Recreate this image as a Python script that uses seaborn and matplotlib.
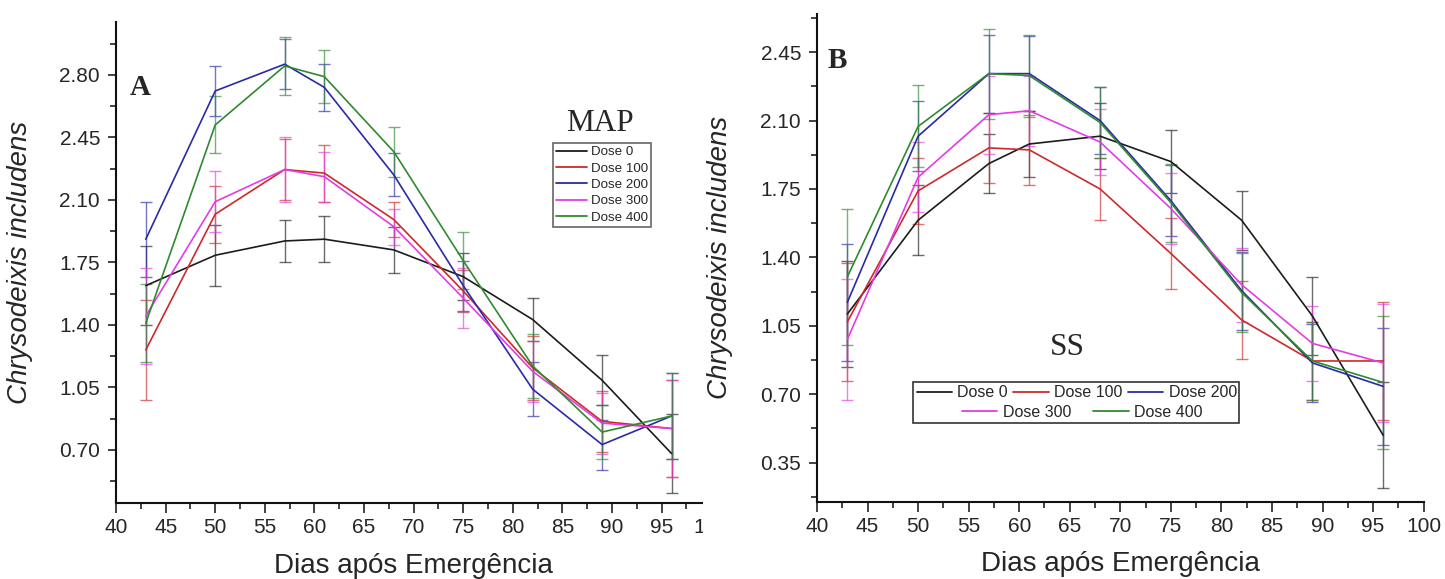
import numpy as np
import pandas as pd
import seaborn as sns
import matplotlib.pyplot as plt
from matplotlib.patches import Rectangle
from matplotlib.ticker import MultipleLocator, FormatStrFormatter

days = [43, 50, 57, 61, 68, 75, 82, 89, 96]
doses = ["Dose 0", "Dose 100", "Dose 200", "Dose 300", "Dose 400"]

# painel A - MAP
map_d0 = [1.62, 1.79, 1.87, 1.88, 1.82, 1.67, 1.43, 1.09, 0.68]
map_d100 = [1.26, 2.02, 2.27, 2.25, 1.99, 1.59, 1.16, 0.86, 0.82]
map_d200 = [1.88, 2.71, 2.86, 2.73, 2.24, 1.62, 1.04, 0.73, 0.89]
map_d300 = [1.45, 2.09, 2.27, 2.23, 1.95, 1.55, 1.14, 0.85, 0.82]
map_d400 = [1.41, 2.52, 2.85, 2.79, 2.37, 1.76, 1.17, 0.80, 0.89]

map_e0 = [0.22, 0.17, 0.12, 0.13, 0.13, 0.13, 0.12, 0.14, 0.22]
map_e100 = [0.28, 0.16, 0.17, 0.16, 0.10, 0.12, 0.18, 0.17, 0.27]
map_e200 = [0.21, 0.14, 0.14, 0.13, 0.12, 0.14, 0.15, 0.14, 0.24]
map_e300 = [0.27, 0.17, 0.18, 0.14, 0.10, 0.17, 0.17, 0.17, 0.27]
map_e400 = [0.22, 0.16, 0.16, 0.15, 0.14, 0.16, 0.18, 0.15, 0.24]

# painel B - SS
ss_d0 = [1.11, 1.59, 1.88, 1.98, 2.02, 1.89, 1.59, 1.10, 0.49]
ss_d100 = [1.07, 1.74, 1.96, 1.95, 1.75, 1.42, 1.08, 0.87, 0.87]
ss_d200 = [1.17, 2.02, 2.34, 2.34, 2.10, 1.69, 1.23, 0.86, 0.74]
ss_d300 = [0.98, 1.81, 2.13, 2.15, 1.99, 1.65, 1.26, 0.96, 0.86]
ss_d400 = [1.30, 2.07, 2.34, 2.33, 2.09, 1.68, 1.22, 0.87, 0.76]

ss_e0 = [0.27, 0.18, 0.15, 0.17, 0.17, 0.16, 0.15, 0.20, 0.27]
ss_e100 = [0.30, 0.17, 0.18, 0.18, 0.16, 0.18, 0.20, 0.20, 0.30]
ss_e200 = [0.30, 0.18, 0.20, 0.19, 0.17, 0.18, 0.20, 0.20, 0.30]
ss_e300 = [0.31, 0.18, 0.20, 0.18, 0.17, 0.18, 0.19, 0.19, 0.30]
ss_e400 = [0.35, 0.21, 0.23, 0.21, 0.18, 0.20, 0.20, 0.20, 0.34]

palette = {"Dose 0": "#1c1c1c", "Dose 100": "#cc2a2a", "Dose 200": "#2a2aa8",
           "Dose 300": "#e43ce4", "Dose 400": "#2f8a2f"}

sns.set_style("ticks")
plt.rcParams['font.family'] = ['Liberation Sans', 'DejaVu Sans']


def to_long(means, errs):
    rows = []
    for dose, m, e in zip(doses, means, errs):
        for d, v, s in zip(days, m, e):
            rows.append({"dia": d, "valor": v, "erro": s, "dose": dose})
    return pd.DataFrame(rows)


def draw_panel(ax, df, ylim):
    for dose in doses:
        sub = df[df["dose"] == dose]
        ax.errorbar(sub["dia"], sub["valor"], yerr=sub["erro"], fmt="none",
                    ecolor=palette[dose], alpha=0.65, elinewidth=1.0,
                    capsize=4.5, capthick=1.0, zorder=1.5)
    sns.lineplot(data=df, x="dia", y="valor", hue="dose", hue_order=doses,
                 palette=palette, errorbar=None, sort=False, linewidth=1.2,
                 ax=ax, zorder=2)

    ax.set_ylim(*ylim)
    ax.set_xlim(40, 100)
    ax.xaxis.set_major_locator(MultipleLocator(5))
    ax.xaxis.set_minor_locator(MultipleLocator(2.5))
    ax.yaxis.set_major_locator(MultipleLocator(0.35))
    ax.yaxis.set_minor_locator(MultipleLocator(0.175))
    ax.yaxis.set_major_formatter(FormatStrFormatter('%.2f'))
    ax.tick_params(axis='both', which='major', labelsize=15, width=1.2, color='#222')
    ax.tick_params(axis='x', which='major', length=7, pad=4)
    ax.tick_params(axis='x', which='minor', length=4.5, width=1.2, color='#222')
    ax.tick_params(axis='y', which='major', length=5.5, pad=6)
    ax.tick_params(axis='y', which='minor', length=4, width=1.2, color='#222')
    sns.despine(ax=ax)
    for side in ['left', 'bottom']:
        ax.spines[side].set_linewidth(1.5)
        ax.spines[side].set_color('#111')

    ax.set_xlabel("Dias após Emergência", fontsize=20, labelpad=11)
    ax.set_ylabel("Chrysodeixis includens", fontsize=20, style='italic')

    leg = ax.get_legend()
    handles = leg.legend_handles
    labels = [t.get_text() for t in leg.get_texts()]
    leg.remove()
    for hd in handles:
        hd.set_linewidth(1.3)
    return handles, labels


fig = plt.figure(figsize=(14.45, 5.79), dpi=100)
ax_a = fig.add_axes([0.0803, 0.1313, 0.4119, 0.8313])
ax_b = fig.add_axes([0.5654, 0.1335, 0.4198, 0.8423])

df_map = to_long([map_d0, map_d100, map_d200, map_d300, map_d400],
                 [map_e0, map_e100, map_e200, map_e300, map_e400])
df_ss = to_long([ss_d0, ss_d100, ss_d200, ss_d300, ss_d400],
                [ss_e0, ss_e100, ss_e200, ss_e300, ss_e400])

# ----- painel A
h, l = draw_panel(ax_a, df_map, (0.403, 3.098))
ax_a.yaxis.set_label_coords(-0.139, 0.5)
leg_a = ax_a.legend(h, l, loc='upper left', bbox_to_anchor=(0.7335, 0.7486),
                    borderaxespad=0, fontsize=9.6, handlelength=2.3,
                    handletextpad=0.3, labelspacing=0.3, borderpad=0.25,
                    fancybox=False, framealpha=1, edgecolor='#666')
leg_a.get_frame().set_linewidth(1.2)
ax_a.text(0.0235, 0.848, "A", transform=ax_a.transAxes, fontsize=21,
          fontweight='bold', family='Liberation Serif', ha='left', va='baseline')
ax_a.text(0.8124, 0.7735, "MAP", transform=ax_a.transAxes, fontsize=22.5,
          family='Liberation Serif', ha='center', va='baseline')

# ----- painel B
h, l = draw_panel(ax_b, df_ss, (0.15, 2.645))
ax_b.yaxis.set_label_coords(-0.1385, 0.5)
ax_b.add_patch(Rectangle((0.1583, 0.1607), 0.5374, 0.0853, transform=ax_b.transAxes,
                         facecolor='white', edgecolor='#333', linewidth=1.2, zorder=4))
leg_b1 = ax_b.legend(h[:3], l[:3], ncol=3, loc='center', bbox_to_anchor=(0.4283, 0.2235),
                     borderaxespad=0, borderpad=0, fontsize=11.5, handlelength=2.2,
                     handletextpad=0.35, columnspacing=0.35, frameon=False)
ax_b.add_artist(leg_b1)
leg_b2 = ax_b.legend(h[3:], l[3:], ncol=2, loc='center', bbox_to_anchor=(0.4374, 0.1833),
                     borderaxespad=0, borderpad=0, fontsize=11.5, handlelength=2.2,
                     handletextpad=0.35, columnspacing=1.4, frameon=False)
ax_b.text(0.018, 0.889, "B", transform=ax_b.transAxes, fontsize=21,
          fontweight='bold', family='Liberation Serif', ha='left', va='baseline')
ax_b.text(0.413, 0.301, "SS", transform=ax_b.transAxes, fontsize=22.5,
          family='Liberation Serif', ha='center', va='baseline')

# o painel A aparece recortado no original
ax_a.set_zorder(0)
ax_b.set_zorder(2)
fig.add_artist(Rectangle((703 / 1445, 0), 1, 1, transform=fig.transFigure,
                         facecolor='white', edgecolor='none', zorder=1))

fig.savefig("out.png", dpi=100)
